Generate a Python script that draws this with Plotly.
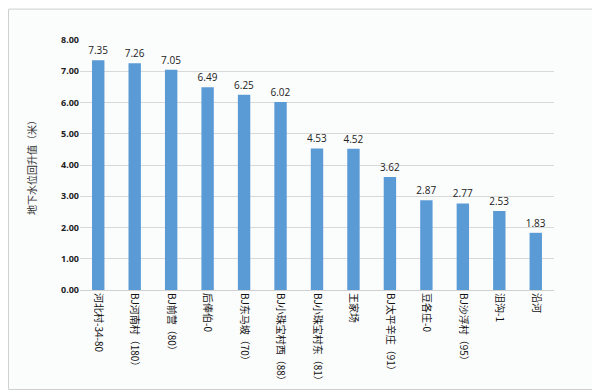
import plotly.graph_objects as go

categories = ["河北村-34-80", "BJ河南村（180）", "BJ前营（80）", "后俸伯-0", "BJ东马坡（70）",
              "BJ小珠宝村西（88）", "BJ小珠宝村东（81）", "王家场", "BJ太平辛庄（91）",
              "豆各庄-0", "BJ沙浮村（95）", "沮沟-1", "沿河"]
values = [7.35, 7.26, 7.05, 6.49, 6.25, 6.02, 4.53, 4.52, 3.62, 2.87, 2.77, 2.53, 1.83]
y_ticks = [0, 1, 2, 3, 4, 5, 6, 7, 8]
y_title = "地下水位回升值（米）"

font_fam = "Noto Sans CJK SC, Noto Sans, DejaVu Sans, sans-serif"

fig = go.Figure(go.Bar(
    x=categories, y=values,
    marker=dict(color="#5B9BD5", line=dict(width=0)),
    text=[f"{v:.2f}" for v in values], textposition="outside",
    constraintext="none",
    textfont=dict(size=10, color="#222", family="Open Sans, sans-serif"),
    cliponaxis=False,
))

L, R, T, B = 72, 54, 32, 103
pw = 600 - L - R
ph = 390 - T - B

fig.update_layout(
    width=600, height=390,
    margin=dict(l=L, r=R, t=T, b=B),
    paper_bgcolor="#fbfcfc", plot_bgcolor="#fbfcfc",
    bargap=0.66,
    showlegend=False,
    font=dict(family=font_fam, color="#333"),
    xaxis=dict(tickangle=90, tickfont=dict(size=10, color="#111"), showgrid=False,
               showline=True, linecolor="#d0d0d0", linewidth=1, ticks=""),
    yaxis=dict(range=[0, 8], tickvals=y_ticks, tickformat=".2f",
               tickfont=dict(size=9, color="#222", family="Open Sans, sans-serif", weight="bold"),
               showgrid=True, gridcolor="#d9d9d9", gridwidth=1, zeroline=False,
               showline=False, ticks="",
               title=dict(text=y_title, font=dict(size=10, color="#333"), standoff=22)),
    shapes=[dict(type="rect", xref="paper", yref="paper",
                 x0=-(L - 0.5) / pw, x1=1 + (R - 1.5) / pw,
                 y0=-(B - 1.5) / ph, y1=1 + (T - 0.5) / ph,
                 line=dict(color="#d0d0d0", width=1), fillcolor="rgba(0,0,0,0)", layer="below")],
)

fig.write_html("out.html")
